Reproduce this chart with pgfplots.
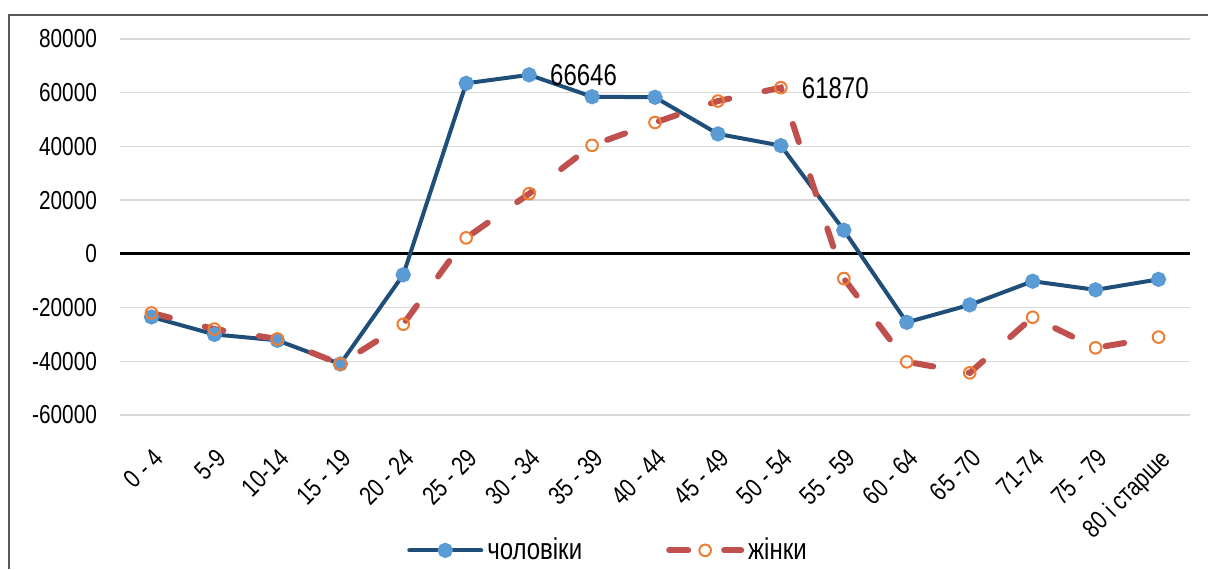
\documentclass[border=0pt]{standalone}
\usepackage{fontspec}
\setmainfont{Liberation Sans}[FakeStretch=0.8]
\usepackage{pgfplots}
\pgfplotsset{compat=1.18}

\definecolor{menline}{RGB}{31,78,121}
\definecolor{menmark}{RGB}{91,155,213}
\definecolor{womline}{RGB}{192,80,77}
\definecolor{wommark}{RGB}{237,125,49}
\definecolor{gridgray}{RGB}{217,217,217}
\definecolor{framegray}{RGB}{89,89,89}

\begin{document}
\begin{tikzpicture}
\useasboundingbox (0,0) rectangle (604pt,284.5pt);
\draw[framegray, line width=0.8pt] (4.5pt,0pt) -- (4.5pt,277pt) -- (604pt,277pt);
\begin{axis}[
    at={(60pt,77pt)}, anchor=south west,
    scale only axis, width=535pt, height=188pt,
    xmin=-0.5, xmax=16.5,
    ymin=-60000, ymax=80000,
    scaled y ticks=false,
    xtick={0,...,16},
    xticklabels={0 - 4,5-9,10-14,15 - 19,20 - 24,25 - 29,30 - 34,35 - 39,40 - 44,45 - 49,50 - 54,55 - 59,60 - 64,65 -70,71-74,75 - 79,80 і старше},
    ytick={-60000,-40000,-20000,0,20000,40000,60000,80000},
    yticklabels={-60000,-40000,-20000,0,20000,40000,60000,80000},
    ymajorgrids,
    grid style={draw=gridgray, line width=0.7pt},
    axis line style={draw=none},
    major tick length=0pt,
    yticklabel style={xshift=-8pt, font=\fontsize{13}{15}\selectfont},
    xticklabel style={rotate=45, anchor=north east, yshift=-8pt, xshift=-8pt,
        font=\fontsize{13}{15}\selectfont},
    legend columns=2,
    legend style={draw=none, fill=none, at={(0.457,-0.36)}, anchor=center,
        font=\fontsize{15}{17}\selectfont,
        /tikz/every even column/.append style={column sep=40pt}},
    legend image code/.code={
        \draw[mark repeat=2,mark phase=2,#1] plot coordinates {(0pt,0pt) (18pt,0pt) (36pt,0pt)};},
    clip=false,
]
\draw[black, line width=1.5pt] (axis cs:-0.5,0) -- (axis cs:16.5,0);

\addplot[menline, line width=2pt, line cap=round, mark=*, mark size=2.8pt,
    mark options={draw=menmark, fill=menmark, solid}] coordinates {
    (0,-23500) (1,-30000) (2,-32200) (3,-41000) (4,-7800) (5,63500)
    (6,66646) (7,58500) (8,58300) (9,44650) (10,40300) (11,8800)
    (12,-25500) (13,-19000) (14,-10200) (15,-13400) (16,-9500)
};
\addlegendentry{чоловіки}

\addplot[womline, line width=3pt, line cap=round, dash pattern=on 9.5pt off 18pt,
    mark=o, mark size=2.9pt,
    mark options={draw=wommark, line width=1pt, solid, fill=none}] coordinates {
    (0,-22000) (1,-28000) (2,-31700) (3,-41000) (4,-26200) (5,5950)
    (6,22400) (7,40400) (8,48900) (9,56900) (10,61870) (11,-9200)
    (12,-40200) (13,-44300) (14,-23600) (15,-35000) (16,-31000)
};
\addlegendentry{жінки}

\node[anchor=west, xshift=7pt, font=\fontsize{15}{17}\selectfont] at (axis cs:6,66646) {66646};
\node[anchor=west, xshift=7pt, font=\fontsize{15}{17}\selectfont] at (axis cs:10,61870) {61870};
\end{axis}
\end{tikzpicture}
\end{document}
